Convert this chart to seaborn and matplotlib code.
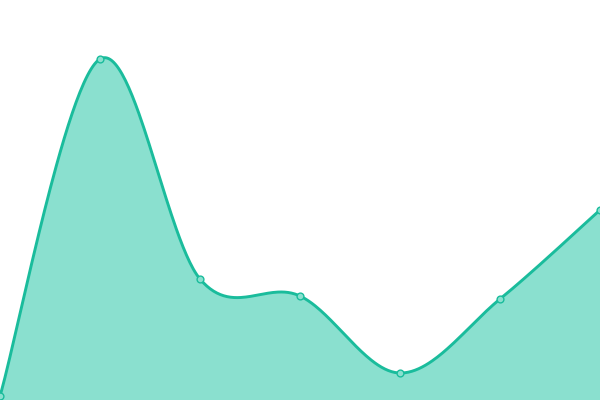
import numpy as np
import matplotlib
matplotlib.use("Agg")
import matplotlib.pyplot as plt
import seaborn as sns

# data
x_vals = [0, 1, 2, 3, 4, 5, 6]
y_vals = [4, 341, 121, 104, 27, 101, 190]

line_color = "#1abc9c"
fill_color = "#8ae0cf"


def cardinal(xs, ys, steps=60):
    # Catmull-Rom style smoothing of the line between the points
    xs = np.asarray(xs, float)
    ys = np.asarray(ys, float)
    n = len(xs)
    mx = np.zeros(n)
    my = np.zeros(n)
    for i in range(n):
        a = max(i - 1, 0)
        b = min(i + 1, n - 1)
        mx[i] = (xs[b] - xs[a]) / 2
        my[i] = (ys[b] - ys[a]) / 2
    out_x, out_y = [], []
    t = np.linspace(0, 1, steps)
    h00 = 2 * t**3 - 3 * t**2 + 1
    h10 = t**3 - 2 * t**2 + t
    h01 = -2 * t**3 + 3 * t**2
    h11 = t**3 - t**2
    for i in range(n - 1):
        out_x.append(h00 * xs[i] + h10 * mx[i] + h01 * xs[i + 1] + h11 * mx[i + 1])
        out_y.append(h00 * ys[i] + h10 * my[i] + h01 * ys[i + 1] + h11 * my[i + 1])
    return np.concatenate(out_x), np.concatenate(out_y)


sns.set_style("white")
fig = plt.figure(figsize=(6, 4), dpi=100)
ax = fig.add_axes([0, 0, 1, 1])

sx, sy = cardinal(x_vals, y_vals)
ax.fill_between(sx, sy, 0, color=fill_color, linewidth=0)
sns.lineplot(x=sx, y=sy, ax=ax, color=line_color, linewidth=2.1, sort=False)
sns.scatterplot(x=x_vals, y=y_vals, ax=ax, s=24, color=fill_color,
                edgecolor=line_color, linewidth=1, zorder=5, clip_on=False)

ax.set_xlim(0, 6)
ax.set_ylim(0, 400)
ax.axis("off")

plt.savefig("out.png", dpi=100)
